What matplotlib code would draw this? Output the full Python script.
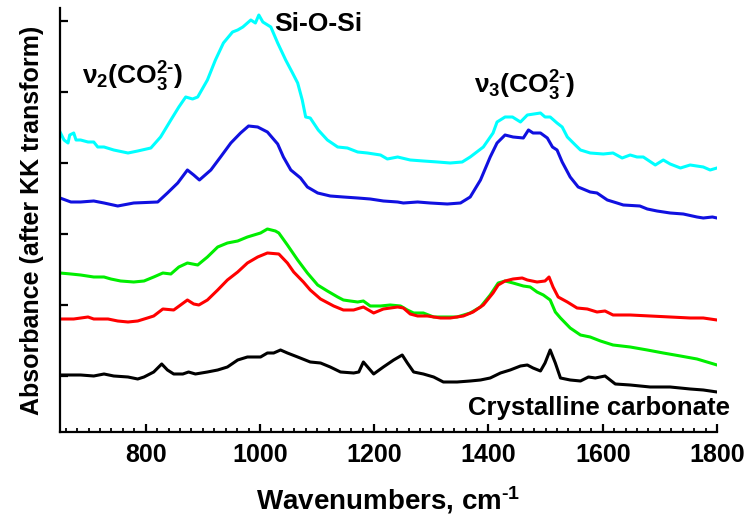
import matplotlib.pyplot as plt
from matplotlib.ticker import MultipleLocator

plt.rcParams["font.family"] = ["Liberation Sans", "DejaVu Sans"]
plt.rcParams["font.weight"] = "bold"
plt.rcParams["axes.labelweight"] = "bold"
plt.rcParams["mathtext.fontset"] = "custom"
plt.rcParams["mathtext.rm"] = "Liberation Sans:bold"
plt.rcParams["mathtext.bf"] = "Liberation Sans:bold"
plt.rcParams["mathtext.it"] = "Liberation Sans:bold"

# spectra (wavenumber, absorbance with offsets)
cyan_x = [650, 657, 664, 667, 674, 678, 686, 699, 709, 716, 727, 744, 769, 786, 809, 826, 844, 858,
          870, 882, 891, 908, 922, 936, 952, 961, 970, 984, 992, 998, 1005, 1019, 1031, 1045, 1057,
          1066, 1074, 1080, 1088, 1102, 1118, 1136, 1153, 1171, 1188, 1211, 1223, 1241, 1263, 1286,
          1311, 1333, 1354, 1368, 1391, 1408, 1415, 1429, 1442, 1456, 1468, 1491, 1499, 1508, 1520,
          1529, 1538, 1552, 1561, 1578, 1601, 1618, 1634, 1648, 1660, 1671, 1692, 1706, 1718, 1736,
          1753, 1776, 1788, 1800]
cyan_y = [3.00, 2.92, 2.89, 2.97, 2.99, 2.92, 2.92, 2.90, 2.90, 2.85, 2.85, 2.82, 2.79, 2.81, 2.84,
          2.95, 3.12, 3.25, 3.35, 3.33, 3.35, 3.52, 3.72, 3.89, 4.00, 4.02, 4.05, 4.12, 4.09, 4.17,
          4.10, 4.05, 3.89, 3.72, 3.59, 3.49, 3.32, 3.15, 3.14, 3.02, 2.92, 2.85, 2.84, 2.80, 2.79,
          2.77, 2.73, 2.75, 2.72, 2.71, 2.70, 2.69, 2.70, 2.75, 2.85, 2.99, 3.10, 3.15, 3.15, 3.10,
          3.17, 3.19, 3.15, 3.15, 3.09, 3.05, 2.95, 2.87, 2.82, 2.79, 2.78, 2.79, 2.74, 2.77, 2.75,
          2.75, 2.67, 2.72, 2.68, 2.64, 2.67, 2.65, 2.62, 2.64]

blue_x = [650, 669, 686, 709, 727, 751, 779, 821, 838, 856, 873, 884, 894, 914, 931, 949, 966, 980,
          996, 1013, 1031, 1041, 1054, 1071, 1083, 1101, 1123, 1146, 1171, 1193, 1216, 1241, 1251,
          1276, 1298, 1328, 1351, 1368, 1386, 1403, 1415, 1429, 1443, 1461, 1470, 1478, 1491, 1503,
          1512, 1520, 1529, 1543, 1557, 1578, 1590, 1608, 1625, 1636, 1665, 1678, 1695, 1718, 1741,
          1765, 1776, 1792, 1800]
blue_y = [2.34, 2.30, 2.30, 2.31, 2.29, 2.26, 2.29, 2.30, 2.39, 2.49, 2.62, 2.57, 2.52, 2.62, 2.75,
          2.89, 2.99, 3.06, 3.05, 3.00, 2.88, 2.75, 2.62, 2.54, 2.45, 2.39, 2.36, 2.35, 2.34, 2.33,
          2.31, 2.30, 2.29, 2.30, 2.29, 2.28, 2.29, 2.35, 2.52, 2.75, 2.89, 2.97, 2.95, 2.94, 3.02,
          2.99, 2.99, 2.94, 2.85, 2.82, 2.70, 2.55, 2.45, 2.40, 2.39, 2.32, 2.29, 2.27, 2.26, 2.23,
          2.21, 2.19, 2.18, 2.15, 2.14, 2.15, 2.14]

green_x = [650, 669, 686, 709, 727, 739, 756, 779, 797, 814, 830, 844, 858, 873, 891, 908, 926, 943,
           961, 978, 1001, 1013, 1027, 1033, 1048, 1066, 1083, 1101, 1118, 1136, 1146, 1158, 1171,
           1181, 1193, 1211, 1228, 1246, 1258, 1269, 1286, 1304, 1321, 1345, 1368, 1386, 1403, 1417,
           1429, 1443, 1461, 1473, 1485, 1496, 1508, 1517, 1526, 1543, 1561, 1578, 1596, 1618, 1648,
           1678, 1706, 1736, 1765, 1800]
green_y = [1.59, 1.58, 1.57, 1.55, 1.55, 1.53, 1.51, 1.50, 1.51, 1.55, 1.59, 1.58, 1.65, 1.69, 1.67,
           1.75, 1.85, 1.89, 1.91, 1.95, 1.99, 2.03, 2.01, 1.99, 1.87, 1.72, 1.59, 1.47, 1.41, 1.35,
           1.32, 1.31, 1.30, 1.31, 1.26, 1.26, 1.27, 1.26, 1.22, 1.19, 1.19, 1.15, 1.15, 1.15, 1.19,
           1.25, 1.37, 1.49, 1.51, 1.49, 1.46, 1.45, 1.40, 1.37, 1.32, 1.20, 1.14, 1.04, 0.97, 0.95,
           0.91, 0.87, 0.85, 0.82, 0.79, 0.76, 0.73, 0.67]

red_x = [650, 674, 699, 709, 734, 751, 769, 786, 803, 814, 830, 849, 861, 873, 884, 893, 908, 926,
         943, 961, 978, 996, 1013, 1033, 1048, 1059, 1076, 1088, 1106, 1129, 1146, 1164, 1181, 1199,
         1216, 1241, 1251, 1263, 1276, 1293, 1316, 1333, 1356, 1373, 1391, 1408, 1417, 1429, 1443,
         1459, 1468, 1485, 1499, 1506, 1513, 1522, 1538, 1555, 1573, 1590, 1604, 1618, 1648, 1683,
         1718, 1753, 1776, 1800]
red_y = [1.13, 1.13, 1.15, 1.13, 1.13, 1.11, 1.10, 1.11, 1.14, 1.16, 1.23, 1.22, 1.27, 1.32, 1.28,
         1.27, 1.32, 1.42, 1.52, 1.60, 1.69, 1.75, 1.79, 1.78, 1.69, 1.60, 1.50, 1.42, 1.33, 1.26,
         1.22, 1.22, 1.25, 1.19, 1.23, 1.25, 1.24, 1.18, 1.16, 1.16, 1.14, 1.14, 1.16, 1.20, 1.27,
         1.39, 1.47, 1.51, 1.53, 1.54, 1.52, 1.50, 1.51, 1.55, 1.45, 1.35, 1.30, 1.24, 1.23, 1.20,
         1.21, 1.17, 1.17, 1.16, 1.15, 1.14, 1.14, 1.12]

black_x = [650, 669, 686, 709, 727, 744, 769, 786, 797, 814, 828, 838, 849, 865, 875, 887, 908, 926,
           943, 961, 978, 1001, 1013, 1024, 1036, 1048, 1066, 1088, 1106, 1123, 1141, 1164, 1173,
           1181, 1190, 1199, 1216, 1234, 1249, 1258, 1269, 1286, 1304, 1321, 1345, 1368, 1386, 1403,
           1421, 1438, 1456, 1468, 1478, 1491, 1499, 1508, 1517, 1526, 1543, 1561, 1575, 1587, 1604,
           1622, 1648, 1683, 1718, 1753, 1776, 1800]
black_y = [0.57, 0.57, 0.57, 0.56, 0.58, 0.56, 0.55, 0.53, 0.55, 0.60, 0.68, 0.62, 0.58, 0.58, 0.60,
           0.58, 0.60, 0.62, 0.65, 0.72, 0.75, 0.75, 0.79, 0.79, 0.82, 0.79, 0.75, 0.70, 0.69, 0.65,
           0.60, 0.59, 0.60, 0.70, 0.64, 0.58, 0.65, 0.72, 0.77, 0.69, 0.60, 0.58, 0.55, 0.50, 0.50,
           0.51, 0.52, 0.54, 0.59, 0.62, 0.66, 0.67, 0.64, 0.61, 0.69, 0.82, 0.69, 0.54, 0.52, 0.51,
           0.55, 0.54, 0.56, 0.48, 0.47, 0.45, 0.45, 0.43, 0.42, 0.40]

y_ticks = [0.56, 1.27, 1.98, 2.69, 3.40, 4.11]

fig = plt.figure(figsize=(7.56, 5.16), dpi=100)
ax = fig.add_axes([0.0794, 0.1628, 0.8690, 0.8217])

lw = 2.2
ax.plot(cyan_x, cyan_y, color="#00ffff", linewidth=lw)
ax.plot(blue_x, blue_y, color="#1010e0", linewidth=lw)
ax.plot(green_x, green_y, color="#00ee00", linewidth=lw)
ax.plot(red_x, red_y, color="#ff0000", linewidth=lw)
ax.plot(black_x, black_y, color="black", linewidth=lw)

ax.set_xlim(650, 1800)
ax.set_ylim(0, 4.24)
ax.xaxis.set_major_locator(MultipleLocator(200))
ax.xaxis.set_minor_locator(MultipleLocator(20))
ax.set_yticks(y_ticks)
ax.set_yticklabels([])

for s in ["top", "right"]:
    ax.spines[s].set_visible(False)
for s in ["left", "bottom"]:
    ax.spines[s].set_linewidth(1.6)

ax.tick_params(axis="x", which="major", direction="in", length=6, width=1.6, labelsize=18, pad=8)
ax.tick_params(axis="x", which="minor", direction="in", length=3, width=1.3)
ax.tick_params(axis="y", which="major", direction="in", length=6, width=1.6)

ax.set_xlabel(r"Wavenumbers, cm$^{\text{-}1}$", fontsize=20, labelpad=12)
ax.set_ylabel("Absorbance (after KK transform)", fontsize=18, labelpad=8)

ax.text(1102, 4.08, "Si-O-Si", fontsize=19, ha="center", va="center")
ax.text(777, 3.55, r"ν$_2$(CO$_3^{2\text{-}}$)", fontsize=19, ha="center", va="center")
ax.text(1463, 3.46, r"ν$_3$(CO$_3^{2\text{-}}$)", fontsize=19, ha="center", va="center")
ax.text(1823, 0.24, "Crystalline carbonate", fontsize=18.5, ha="right", va="center", clip_on=False)

fig.savefig("out.png", dpi=100)
